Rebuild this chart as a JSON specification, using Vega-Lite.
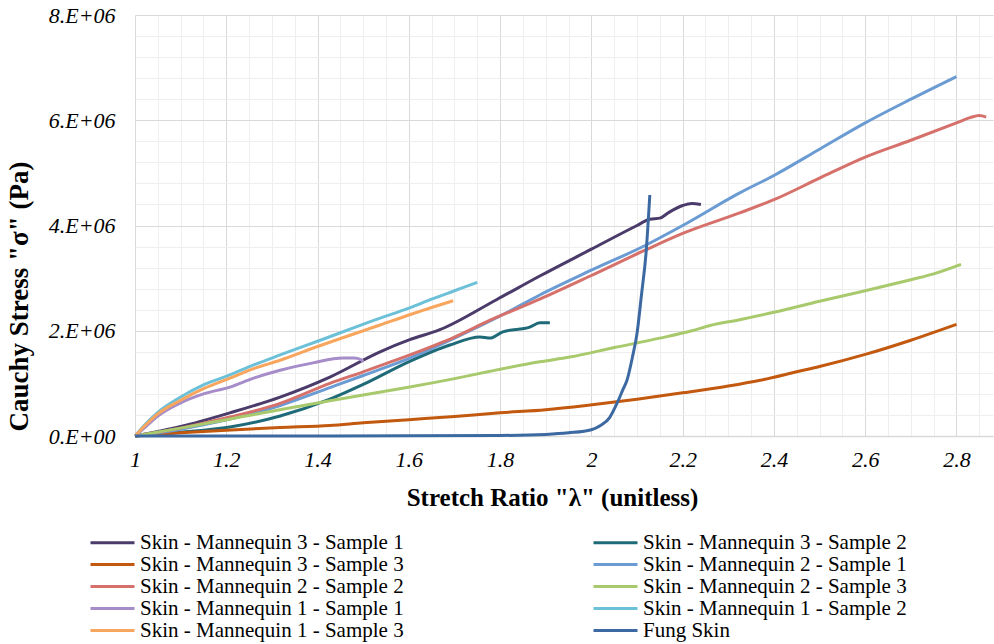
{
  "$schema": "https://vega.github.io/schema/vega-lite/v6.json",
  "width": 858,
  "height": 421,
  "autosize": {"type": "none"},
  "padding": {"left": 135, "top": 15, "right": 1, "bottom": 208},
  "background": "white",
  "config": {
    "view": {"stroke": null},
    "font": "Liberation Serif"
  },
  "datasets": {
    "curves": [
      {"s": "Skin - Mannequin 3 - Sample 1", "x": 1, "y": 0},
      {"s": "Skin - Mannequin 3 - Sample 1", "x": 1.1, "y": 1.8e5},
      {"s": "Skin - Mannequin 3 - Sample 1", "x": 1.208, "y": 4.4e5},
      {"s": "Skin - Mannequin 3 - Sample 1", "x": 1.318, "y": 7.4e5},
      {"s": "Skin - Mannequin 3 - Sample 1", "x": 1.427, "y": 1.12e6},
      {"s": "Skin - Mannequin 3 - Sample 1", "x": 1.537, "y": 1.6e6},
      {"s": "Skin - Mannequin 3 - Sample 1", "x": 1.602, "y": 1.83e6},
      {"s": "Skin - Mannequin 3 - Sample 1", "x": 1.668, "y": 2.02e6},
      {"s": "Skin - Mannequin 3 - Sample 1", "x": 1.792, "y": 2.59e6},
      {"s": "Skin - Mannequin 3 - Sample 1", "x": 1.887, "y": 3.04e6},
      {"s": "Skin - Mannequin 3 - Sample 1", "x": 2.0, "y": 3.55e6},
      {"s": "Skin - Mannequin 3 - Sample 1", "x": 2.1, "y": 4.0e6},
      {"s": "Skin - Mannequin 3 - Sample 1", "x": 2.128, "y": 4.12e6},
      {"s": "Skin - Mannequin 3 - Sample 1", "x": 2.15, "y": 4.14e6},
      {"s": "Skin - Mannequin 3 - Sample 1", "x": 2.17, "y": 4.25e6},
      {"s": "Skin - Mannequin 3 - Sample 1", "x": 2.2, "y": 4.38e6},
      {"s": "Skin - Mannequin 3 - Sample 1", "x": 2.22, "y": 4.42e6},
      {"s": "Skin - Mannequin 3 - Sample 1", "x": 2.24, "y": 4.4e6},

      {"s": "Skin - Mannequin 3 - Sample 2", "x": 1, "y": 0},
      {"s": "Skin - Mannequin 3 - Sample 2", "x": 1.1, "y": 7e4},
      {"s": "Skin - Mannequin 3 - Sample 2", "x": 1.208, "y": 1.7e5},
      {"s": "Skin - Mannequin 3 - Sample 2", "x": 1.318, "y": 3.8e5},
      {"s": "Skin - Mannequin 3 - Sample 2", "x": 1.427, "y": 7e5},
      {"s": "Skin - Mannequin 3 - Sample 2", "x": 1.5, "y": 9.8e5},
      {"s": "Skin - Mannequin 3 - Sample 2", "x": 1.602, "y": 1.42e6},
      {"s": "Skin - Mannequin 3 - Sample 2", "x": 1.69, "y": 1.73e6},
      {"s": "Skin - Mannequin 3 - Sample 2", "x": 1.756, "y": 1.88e6},
      {"s": "Skin - Mannequin 3 - Sample 2", "x": 1.778, "y": 1.86e6},
      {"s": "Skin - Mannequin 3 - Sample 2", "x": 1.806, "y": 1.98e6},
      {"s": "Skin - Mannequin 3 - Sample 2", "x": 1.865, "y": 2.07e6},
      {"s": "Skin - Mannequin 3 - Sample 2", "x": 1.887, "y": 2.15e6},
      {"s": "Skin - Mannequin 3 - Sample 2", "x": 1.909, "y": 2.15e6},

      {"s": "Skin - Mannequin 3 - Sample 3", "x": 1, "y": 0},
      {"s": "Skin - Mannequin 3 - Sample 3", "x": 1.1, "y": 6e4},
      {"s": "Skin - Mannequin 3 - Sample 3", "x": 1.2, "y": 1.1e5},
      {"s": "Skin - Mannequin 3 - Sample 3", "x": 1.318, "y": 1.6e5},
      {"s": "Skin - Mannequin 3 - Sample 3", "x": 1.427, "y": 2e5},
      {"s": "Skin - Mannequin 3 - Sample 3", "x": 1.5, "y": 2.5e5},
      {"s": "Skin - Mannequin 3 - Sample 3", "x": 1.6, "y": 3.1e5},
      {"s": "Skin - Mannequin 3 - Sample 3", "x": 1.7, "y": 3.7e5},
      {"s": "Skin - Mannequin 3 - Sample 3", "x": 1.8, "y": 4.4e5},
      {"s": "Skin - Mannequin 3 - Sample 3", "x": 1.9, "y": 5e5},
      {"s": "Skin - Mannequin 3 - Sample 3", "x": 1.997, "y": 5.9e5},
      {"s": "Skin - Mannequin 3 - Sample 3", "x": 2.1, "y": 7e5},
      {"s": "Skin - Mannequin 3 - Sample 3", "x": 2.2, "y": 8.2e5},
      {"s": "Skin - Mannequin 3 - Sample 3", "x": 2.3, "y": 9.5e5},
      {"s": "Skin - Mannequin 3 - Sample 3", "x": 2.37, "y": 1.06e6},
      {"s": "Skin - Mannequin 3 - Sample 3", "x": 2.45, "y": 1.22e6},
      {"s": "Skin - Mannequin 3 - Sample 3", "x": 2.5, "y": 1.32e6},
      {"s": "Skin - Mannequin 3 - Sample 3", "x": 2.6, "y": 1.55e6},
      {"s": "Skin - Mannequin 3 - Sample 3", "x": 2.7, "y": 1.82e6},
      {"s": "Skin - Mannequin 3 - Sample 3", "x": 2.8, "y": 2.12e6},

      {"s": "Skin - Mannequin 2 - Sample 1", "x": 1, "y": 0},
      {"s": "Skin - Mannequin 2 - Sample 1", "x": 1.1, "y": 1.3e5},
      {"s": "Skin - Mannequin 2 - Sample 1", "x": 1.208, "y": 3.2e5},
      {"s": "Skin - Mannequin 2 - Sample 1", "x": 1.318, "y": 5.8e5},
      {"s": "Skin - Mannequin 2 - Sample 1", "x": 1.427, "y": 9.2e5},
      {"s": "Skin - Mannequin 2 - Sample 1", "x": 1.5, "y": 1.15e6},
      {"s": "Skin - Mannequin 2 - Sample 1", "x": 1.602, "y": 1.48e6},
      {"s": "Skin - Mannequin 2 - Sample 1", "x": 1.7, "y": 1.86e6},
      {"s": "Skin - Mannequin 2 - Sample 1", "x": 1.8, "y": 2.28e6},
      {"s": "Skin - Mannequin 2 - Sample 1", "x": 1.887, "y": 2.68e6},
      {"s": "Skin - Mannequin 2 - Sample 1", "x": 2.0, "y": 3.15e6},
      {"s": "Skin - Mannequin 2 - Sample 1", "x": 2.12, "y": 3.63e6},
      {"s": "Skin - Mannequin 2 - Sample 1", "x": 2.2, "y": 4.0e6},
      {"s": "Skin - Mannequin 2 - Sample 1", "x": 2.325, "y": 4.62e6},
      {"s": "Skin - Mannequin 2 - Sample 1", "x": 2.402, "y": 4.96e6},
      {"s": "Skin - Mannequin 2 - Sample 1", "x": 2.5, "y": 5.45e6},
      {"s": "Skin - Mannequin 2 - Sample 1", "x": 2.6, "y": 5.95e6},
      {"s": "Skin - Mannequin 2 - Sample 1", "x": 2.7, "y": 6.4e6},
      {"s": "Skin - Mannequin 2 - Sample 1", "x": 2.8, "y": 6.83e6},

      {"s": "Skin - Mannequin 2 - Sample 2", "x": 1, "y": 0},
      {"s": "Skin - Mannequin 2 - Sample 2", "x": 1.1, "y": 1.5e5},
      {"s": "Skin - Mannequin 2 - Sample 2", "x": 1.208, "y": 3.6e5},
      {"s": "Skin - Mannequin 2 - Sample 2", "x": 1.318, "y": 6.2e5},
      {"s": "Skin - Mannequin 2 - Sample 2", "x": 1.427, "y": 1.0e6},
      {"s": "Skin - Mannequin 2 - Sample 2", "x": 1.5, "y": 1.22e6},
      {"s": "Skin - Mannequin 2 - Sample 2", "x": 1.602, "y": 1.54e6},
      {"s": "Skin - Mannequin 2 - Sample 2", "x": 1.7, "y": 1.88e6},
      {"s": "Skin - Mannequin 2 - Sample 2", "x": 1.778, "y": 2.2e6},
      {"s": "Skin - Mannequin 2 - Sample 2", "x": 1.887, "y": 2.6e6},
      {"s": "Skin - Mannequin 2 - Sample 2", "x": 2.0, "y": 3.05e6},
      {"s": "Skin - Mannequin 2 - Sample 2", "x": 2.12, "y": 3.54e6},
      {"s": "Skin - Mannequin 2 - Sample 2", "x": 2.2, "y": 3.85e6},
      {"s": "Skin - Mannequin 2 - Sample 2", "x": 2.325, "y": 4.24e6},
      {"s": "Skin - Mannequin 2 - Sample 2", "x": 2.4, "y": 4.49e6},
      {"s": "Skin - Mannequin 2 - Sample 2", "x": 2.5, "y": 4.9e6},
      {"s": "Skin - Mannequin 2 - Sample 2", "x": 2.6, "y": 5.3e6},
      {"s": "Skin - Mannequin 2 - Sample 2", "x": 2.7, "y": 5.62e6},
      {"s": "Skin - Mannequin 2 - Sample 2", "x": 2.8, "y": 5.95e6},
      {"s": "Skin - Mannequin 2 - Sample 2", "x": 2.83, "y": 6.05e6},
      {"s": "Skin - Mannequin 2 - Sample 2", "x": 2.85, "y": 6.09e6},
      {"s": "Skin - Mannequin 2 - Sample 2", "x": 2.865, "y": 6.06e6},

      {"s": "Skin - Mannequin 2 - Sample 3", "x": 1, "y": 0},
      {"s": "Skin - Mannequin 2 - Sample 3", "x": 1.1, "y": 1.5e5},
      {"s": "Skin - Mannequin 2 - Sample 3", "x": 1.2, "y": 3.1e5},
      {"s": "Skin - Mannequin 2 - Sample 3", "x": 1.3, "y": 4.7e5},
      {"s": "Skin - Mannequin 2 - Sample 3", "x": 1.427, "y": 6.7e5},
      {"s": "Skin - Mannequin 2 - Sample 3", "x": 1.5, "y": 7.8e5},
      {"s": "Skin - Mannequin 2 - Sample 3", "x": 1.602, "y": 9.3e5},
      {"s": "Skin - Mannequin 2 - Sample 3", "x": 1.7, "y": 1.09e6},
      {"s": "Skin - Mannequin 2 - Sample 3", "x": 1.778, "y": 1.23e6},
      {"s": "Skin - Mannequin 2 - Sample 3", "x": 1.887, "y": 1.41e6},
      {"s": "Skin - Mannequin 2 - Sample 3", "x": 1.953, "y": 1.5e6},
      {"s": "Skin - Mannequin 2 - Sample 3", "x": 2.05, "y": 1.68e6},
      {"s": "Skin - Mannequin 2 - Sample 3", "x": 2.15, "y": 1.86e6},
      {"s": "Skin - Mannequin 2 - Sample 3", "x": 2.22, "y": 2.0e6},
      {"s": "Skin - Mannequin 2 - Sample 3", "x": 2.26, "y": 2.1e6},
      {"s": "Skin - Mannequin 2 - Sample 3", "x": 2.325, "y": 2.21e6},
      {"s": "Skin - Mannequin 2 - Sample 3", "x": 2.4, "y": 2.35e6},
      {"s": "Skin - Mannequin 2 - Sample 3", "x": 2.5, "y": 2.56e6},
      {"s": "Skin - Mannequin 2 - Sample 3", "x": 2.6, "y": 2.76e6},
      {"s": "Skin - Mannequin 2 - Sample 3", "x": 2.7, "y": 2.97e6},
      {"s": "Skin - Mannequin 2 - Sample 3", "x": 2.75, "y": 3.08e6},
      {"s": "Skin - Mannequin 2 - Sample 3", "x": 2.81, "y": 3.26e6},

      {"s": "Skin - Mannequin 1 - Sample 1", "x": 1, "y": 0},
      {"s": "Skin - Mannequin 1 - Sample 1", "x": 1.02, "y": 1.5e5},
      {"s": "Skin - Mannequin 1 - Sample 1", "x": 1.05, "y": 3.8e5},
      {"s": "Skin - Mannequin 1 - Sample 1", "x": 1.1, "y": 6.3e5},
      {"s": "Skin - Mannequin 1 - Sample 1", "x": 1.15, "y": 8e5},
      {"s": "Skin - Mannequin 1 - Sample 1", "x": 1.208, "y": 9.3e5},
      {"s": "Skin - Mannequin 1 - Sample 1", "x": 1.26, "y": 1.1e6},
      {"s": "Skin - Mannequin 1 - Sample 1", "x": 1.318, "y": 1.25e6},
      {"s": "Skin - Mannequin 1 - Sample 1", "x": 1.39, "y": 1.39e6},
      {"s": "Skin - Mannequin 1 - Sample 1", "x": 1.456, "y": 1.48e6},
      {"s": "Skin - Mannequin 1 - Sample 1", "x": 1.48, "y": 1.48e6},
      {"s": "Skin - Mannequin 1 - Sample 1", "x": 1.495, "y": 1.45e6},
      {"s": "Skin - Mannequin 1 - Sample 1", "x": 1.5, "y": 1.41e6},

      {"s": "Skin - Mannequin 1 - Sample 2", "x": 1, "y": 0},
      {"s": "Skin - Mannequin 1 - Sample 2", "x": 1.02, "y": 2e5},
      {"s": "Skin - Mannequin 1 - Sample 2", "x": 1.05, "y": 4.5e5},
      {"s": "Skin - Mannequin 1 - Sample 2", "x": 1.1, "y": 7.4e5},
      {"s": "Skin - Mannequin 1 - Sample 2", "x": 1.15, "y": 9.7e5},
      {"s": "Skin - Mannequin 1 - Sample 2", "x": 1.208, "y": 1.16e6},
      {"s": "Skin - Mannequin 1 - Sample 2", "x": 1.26, "y": 1.35e6},
      {"s": "Skin - Mannequin 1 - Sample 2", "x": 1.318, "y": 1.54e6},
      {"s": "Skin - Mannequin 1 - Sample 2", "x": 1.4, "y": 1.8e6},
      {"s": "Skin - Mannequin 1 - Sample 2", "x": 1.537, "y": 2.24e6},
      {"s": "Skin - Mannequin 1 - Sample 2", "x": 1.6, "y": 2.43e6},
      {"s": "Skin - Mannequin 1 - Sample 2", "x": 1.65, "y": 2.6e6},
      {"s": "Skin - Mannequin 1 - Sample 2", "x": 1.7, "y": 2.76e6},
      {"s": "Skin - Mannequin 1 - Sample 2", "x": 1.75, "y": 2.92e6},

      {"s": "Skin - Mannequin 1 - Sample 3", "x": 1, "y": 0},
      {"s": "Skin - Mannequin 1 - Sample 3", "x": 1.02, "y": 1.8e5},
      {"s": "Skin - Mannequin 1 - Sample 3", "x": 1.05, "y": 4.2e5},
      {"s": "Skin - Mannequin 1 - Sample 3", "x": 1.1, "y": 6.8e5},
      {"s": "Skin - Mannequin 1 - Sample 3", "x": 1.15, "y": 9e5},
      {"s": "Skin - Mannequin 1 - Sample 3", "x": 1.208, "y": 1.1e6},
      {"s": "Skin - Mannequin 1 - Sample 3", "x": 1.26, "y": 1.28e6},
      {"s": "Skin - Mannequin 1 - Sample 3", "x": 1.318, "y": 1.44e6},
      {"s": "Skin - Mannequin 1 - Sample 3", "x": 1.4, "y": 1.7e6},
      {"s": "Skin - Mannequin 1 - Sample 3", "x": 1.537, "y": 2.11e6},
      {"s": "Skin - Mannequin 1 - Sample 3", "x": 1.6, "y": 2.3e6},
      {"s": "Skin - Mannequin 1 - Sample 3", "x": 1.697, "y": 2.57e6},

      {"s": "Fung Skin", "x": 1, "y": 0},
      {"s": "Fung Skin", "x": 1.43, "y": 0},
      {"s": "Fung Skin", "x": 1.6, "y": 3e3},
      {"s": "Fung Skin", "x": 1.8, "y": 1e4},
      {"s": "Fung Skin", "x": 1.9, "y": 3e4},
      {"s": "Fung Skin", "x": 1.95, "y": 6e4},
      {"s": "Fung Skin", "x": 2.0, "y": 1.2e5},
      {"s": "Fung Skin", "x": 2.02, "y": 2e5},
      {"s": "Fung Skin", "x": 2.04, "y": 3.5e5},
      {"s": "Fung Skin", "x": 2.055, "y": 6e5},
      {"s": "Fung Skin", "x": 2.07, "y": 9e5},
      {"s": "Fung Skin", "x": 2.078, "y": 1.06e6},
      {"s": "Fung Skin", "x": 2.09, "y": 1.5e6},
      {"s": "Fung Skin", "x": 2.1, "y": 1.95e6},
      {"s": "Fung Skin", "x": 2.11, "y": 2.7e6},
      {"s": "Fung Skin", "x": 2.12, "y": 3.5e6},
      {"s": "Fung Skin", "x": 2.128, "y": 4.58e6}
    ]
  },
  "data": {"name": "curves"},
  "layer": [
    {
      "mark": {"type": "line", "strokeOpacity": 0},
      "encoding": {
        "x": {
          "field": "x", "type": "quantitative",
          "scale": {"domain": [1, 2.88], "nice": false, "zero": false},
          "axis": {
            "orient": "bottom",
            "values": [1.05,1.1,1.15,1.25,1.3,1.35,1.45,1.5,1.55,1.65,1.7,1.75,1.85,1.9,1.95,2.05,2.1,2.15,2.25,2.3,2.35,2.45,2.5,2.55,2.65,2.7,2.75,2.85],
            "grid": true, "gridColor": "#eeeeee", "gridWidth": 1,
            "labels": false, "ticks": false, "domain": false, "title": null
          }
        },
        "y": {
          "field": "y", "type": "quantitative",
          "scale": {"domain": [0, 8000000], "nice": false},
          "axis": {
            "orient": "left",
            "values": [400000,800000,1200000,1600000,2400000,2800000,3200000,3600000,4400000,4800000,5200000,5600000,6400000,6800000,7200000,7600000],
            "grid": true, "gridColor": "#eeeeee", "gridWidth": 1,
            "labels": false, "ticks": false, "domain": false, "title": null
          }
        },
        "detail": {"field": "s"}
      }
    },
    {
      "mark": {"type": "line", "strokeWidth": 3, "interpolate": "monotone"},
      "encoding": {
        "x": {
          "field": "x", "type": "quantitative",
          "scale": {"domain": [1, 2.88], "nice": false, "zero": false},
          "axis": {
            "orient": "bottom",
            "values": [1, 1.2, 1.4, 1.6, 1.8, 2, 2.2, 2.4, 2.6, 2.8],
            "labelExpr": "format(datum.value, '~g')",
            "grid": true, "gridColor": "#d9d9d9", "gridWidth": 1,
            "ticks": false, "tickSize": 0,
            "domain": true, "domainColor": "#d9d9d9", "domainWidth": 1.5,
            "labelFont": "Liberation Serif", "labelFontStyle": "italic", "labelFontSize": 22,
            "labelColor": "#000000", "labelPadding": 13, "labelFlush": false,
            "title": "Stretch Ratio \"λ\" (unitless)",
            "titleFont": "Liberation Serif", "titleFontWeight": "bold", "titleFontSize": 25,
            "titleColor": "#000000", "titleX": 417, "titleY": 69,
            "titleAnchor": null, "titleAlign": "center", "titleBaseline": "alphabetic"
          }
        },
        "y": {
          "field": "y", "type": "quantitative",
          "scale": {"domain": [0, 8000000], "nice": false},
          "axis": {
            "orient": "left",
            "values": [0, 2000000, 4000000, 6000000, 8000000],
            "labelExpr": "datum.value == 0 ? '0.E+00' : format(datum.value / 1000000, 'd') + '.E+06'",
            "grid": true, "gridColor": "#d9d9d9", "gridWidth": 1,
            "ticks": false, "tickSize": 0, "domain": false,
            "labelFont": "Liberation Serif", "labelFontStyle": "italic", "labelFontSize": 22,
            "labelColor": "#000000", "labelPadding": 20, "labelFlush": false,
            "title": "Cauchy Stress \"σ\" (Pa)",
            "titleFont": "Liberation Serif", "titleFontWeight": "bold", "titleFontSize": 27,
            "titleColor": "#000000", "titleX": -116, "titleY": 281,
            "titleAngle": -90, "titleAlign": "center", "titleBaseline": "middle", "titleAnchor": null
          }
        },
        "color": {
          "field": "s", "type": "nominal",
          "scale": {
            "domain": [
              "Skin - Mannequin 3 - Sample 1", "Skin - Mannequin 3 - Sample 2",
              "Skin - Mannequin 3 - Sample 3", "Skin - Mannequin 2 - Sample 1",
              "Skin - Mannequin 2 - Sample 2", "Skin - Mannequin 2 - Sample 3",
              "Skin - Mannequin 1 - Sample 1", "Skin - Mannequin 1 - Sample 2",
              "Skin - Mannequin 1 - Sample 3", "Fung Skin"
            ],
            "range": ["#4a3b6a", "#1f6a78", "#c2590f", "#6b9bd3", "#d6706b", "#a8c96c", "#a68cc8", "#6cc0d8", "#f8a65e", "#3c69a1"]
          },
          "legend": {
            "title": null, "orient": "none", "legendX": -33, "legendY": 517,
            "columns": 2, "columnPadding": 183, "rowPadding": 0, "padding": 0,
            "symbolType": "M-4,0H4", "symbolSize": 121, "symbolStrokeWidth": 3,
            "labelFont": "Liberation Serif", "labelFontSize": 21, "labelColor": "#000000",
            "labelOffset": 17, "labelLimit": 400, "direction": "horizontal"
          }
        }
      }
    }
  ],
  "resolve": {"axis": {"x": "independent", "y": "independent"}}
}
